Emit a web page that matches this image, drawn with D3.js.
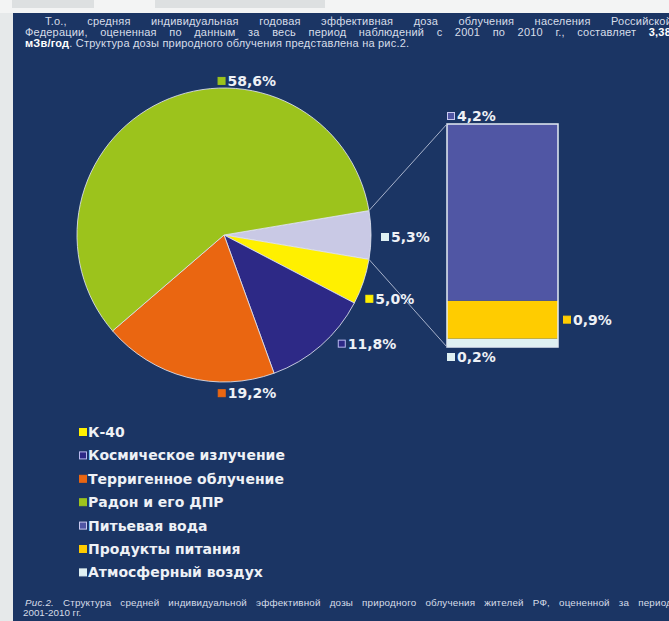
<!DOCTYPE html>
<html>
<head>
<meta charset="utf-8">
<script src="https://cdn.jsdelivr.net/npm/d3@7/dist/d3.min.js"></script>
<style>
  body { margin: 0; background: #e9ecee; overflow: hidden; }
  svg { display: block; }
</style>
</head>
<body>
<div id="visualization"></div>
<script>
// pie slices, clockwise from the "other" slice on the right
const pieKeys = ['other', 'k40', 'cosmic', 'terrigen', 'radon']
const pieValues = [5.3, 5.0, 11.8, 19.2, 58.6]
const pieLabels = ['5,3%', '5,0%', '11,8%', '19,2%', '58,6%']

// bar of the "other" slice, bottom to top
const barKeys = ['air', 'food', 'water']
const barValues = [0.2, 0.9, 4.2]
const barLabels = ['0,2%', '0,9%', '4,2%']

const legendKeys = ['k40', 'cosmic', 'terrigen', 'radon', 'water', 'food', 'air']
const legendNames = ['К-40', 'Космическое излучение', 'Терригенное облучение', 'Радон и его ДПР',
  'Питьевая вода', 'Продукты питания', 'Атмосферный воздух']

const headerLines = [
  'Т.о., средняя индивидуальная годовая эффективная доза облучения населения Российской',
  'Федерации, оцененная по данным за весь период наблюдений с 2001 по 2010 г., составляет 3,38'
]
const headerLast = ['мЗв/год', '. Структура дозы природного облучения представлена на рис.2.']
const captionLines = [
  'Рис.2. Структура средней индивидуальной эффективной дозы природного облучения жителей РФ, оцененной за период',
  '2001-2010 гг.'
]

const colors = {
  other: '#c9c9e5', k40: '#fff000', cosmic: '#2d2986', terrigen: '#ea6611', radon: '#9cc31c',
  water: '#5056a4', food: '#ffcc00', air: '#dff0f2'
}
// legend boxes with an outline
const outlined = { cosmic: '#b9b9f0', water: '#c9c9f0' }

const width = 669
const height = 621
const navy = '#1b3564'
const textColor = '#eef1f6'
const smallFont = 'Liberation Sans, Arial, sans-serif'

const svg = d3.select('#visualization')
  .append('svg')
    .attr('width', width)
    .attr('height', height)

// page around the panel
svg.append('rect').attr('width', width).attr('height', 13).attr('fill', '#f3f4f4')
svg.append('rect').attr('x', 12).attr('width', 82).attr('height', 8).attr('fill', '#dde0e1')
svg.append('rect').attr('x', 155).attr('width', 170).attr('height', 8).attr('fill', '#dde0e1')
svg.append('rect').attr('y', 13).attr('width', 13).attr('height', height).attr('fill', '#e6e9ea')
svg.append('rect').attr('x', 13).attr('y', 13).attr('width', width).attr('height', height).attr('fill', navy)

// justified line of words
let justify = (g, text, x0, x1, y, size) => {
  let words = text.split(' ')
  let nodes = words.map(w => g.append('text')
    .attr('y', y)
    .attr('font-family', smallFont)
    .attr('font-size', size)
    .attr('letter-spacing', 0.2)
    .attr('fill', '#d7dde9')
    .text(w))
  let lens = nodes.map(n => n.node().getComputedTextLength())
  let gap = (x1 - x0 - d3.sum(lens)) / (words.length - 1)
  let x = x0
  nodes.forEach((n, i) => { n.attr('x', x); x += lens[i] + gap })
  return nodes
}

let header = svg.append('g')
justify(header, headerLines[0], 45, 672, 25, 11)
let line2 = justify(header, headerLines[1], 25, 671, 36, 11)
line2[line2.length - 1].attr('font-weight', 'bold').attr('fill', '#ffffff')
let last = header.append('text')
  .attr('x', 25).attr('y', 47)
  .attr('font-family', smallFont)
  .attr('font-size', 11)
  .attr('letter-spacing', 0.2)
  .attr('fill', '#d7dde9')
last.append('tspan').attr('font-weight', 'bold').attr('fill', '#ffffff').text(headerLast[0])
last.append('tspan').text(headerLast[1])

let caption = svg.append('g')
let capWords = justify(caption, captionLines[0], 25, 672, 606, 9.8)
capWords[0].attr('font-style', 'italic')
caption.append('text')
  .attr('x', 23).attr('y', 616)
  .attr('font-family', smallFont)
  .attr('font-size', 9.8)
  .attr('fill', '#d7dde9')
  .text(captionLines[1])

// pie
let cx = 224
let cy = 235
let radius = 147
let total = d3.sum(pieValues)
let start = Math.PI / 2 - (pieValues[0] / total) * Math.PI

let pie = d3.pie().sort(null).startAngle(start).endAngle(start + 2 * Math.PI)
let arcs = pie(pieValues)
let arc = d3.arc().innerRadius(0).outerRadius(radius)

let pieG = svg.append('g').attr('transform', `translate(${cx},${cy})`)
pieG.selectAll('path')
  .data(arcs)
  .enter()
  .append('path')
    .attr('d', arc)
    .attr('fill', (d, i) => colors[pieKeys[i]])
    .attr('stroke', '#dfe3ee')
    .attr('stroke-opacity', 0.85)
    .attr('stroke-width', 1)

// bar of pie
let barX = 447
let barW = 111
let yScale = d3.scaleLinear()
  .domain([0, d3.sum(barValues)])
  .range([347, 124])
let stacked = d3.cumsum(barValues)

let barG = svg.append('g')
barG.selectAll('rect')
  .data(barValues)
  .enter()
  .append('rect')
    .attr('x', barX)
    .attr('width', barW)
    .attr('y', (d, i) => yScale(stacked[i]))
    .attr('height', (d, i) => yScale(stacked[i] - d) - yScale(stacked[i]))
    .attr('fill', (d, i) => colors[barKeys[i]])
barG.append('rect')
  .attr('x', barX).attr('y', yScale(d3.sum(barValues)))
  .attr('width', barW).attr('height', yScale(0) - yScale(d3.sum(barValues)))
  .attr('fill', 'none')
  .attr('stroke', '#e4ebf2')
  .attr('stroke-width', 1.5)

// connectors from the "other" slice to the bar
let edge = a => [cx + radius * Math.sin(a), cy - radius * Math.cos(a)]
let p0 = edge(arcs[0].startAngle)
let p1 = edge(arcs[0].endAngle)
svg.append('line')
  .attr('x1', p0[0]).attr('y1', p0[1]).attr('x2', barX).attr('y2', yScale(d3.sum(barValues)))
  .attr('stroke', '#a7b2cb').attr('stroke-width', 1)
svg.append('line')
  .attr('x1', p1[0]).attr('y1', p1[1]).attr('x2', barX).attr('y2', yScale(0))
  .attr('stroke', '#a7b2cb').attr('stroke-width', 1)

// label = small box + bold value
let labelFont = 'DejaVu Sans, Verdana, sans-serif'
let drawLabel = (x, y, key, text) => {
  let g = svg.append('g').attr('transform', `translate(${x},${y})`)
  g.append('rect')
    .attr('x', 0.5).attr('y', -3.5).attr('width', 7).attr('height', 7)
    .attr('fill', colors[key])
    .attr('stroke', outlined[key] || colors[key])
    .attr('stroke-width', 1)
  g.append('text')
    .attr('x', 10).attr('y', 5)
    .attr('font-family', labelFont)
    .attr('font-weight', 'bold')
    .attr('font-size', 14)
    .attr('fill', textColor)
    .text(text)
}

// nudges from the slice edge (Excel "best fit" positions)
let labelNudge = [[10, 2], [2, 17], [17, -2], [31, 16], [56, -21]]
arcs.forEach((a, i) => {
  let mid = (a.startAngle + a.endAngle) / 2
  let p = edge(mid)
  drawLabel(p[0] + labelNudge[i][0], p[1] + labelNudge[i][1], pieKeys[i] === 'other' ? 'air' : pieKeys[i], pieLabels[i])
})

drawLabel(barX, yScale(d3.sum(barValues)) - 8, 'water', barLabels[2])
drawLabel(barX + barW + 5, yScale((stacked[0] + stacked[1]) / 2), 'food', barLabels[1])
drawLabel(barX, yScale(0) + 10, 'air', barLabels[0])

// legend
let legend = svg.append('g').attr('transform', 'translate(79,432)')
let item = legend.selectAll('g')
  .data(legendKeys)
  .enter()
  .append('g')
    .attr('transform', (d, i) => `translate(0,${i * 23.4})`)
item.append('rect')
  .attr('x', 0.5).attr('y', -3.5).attr('width', 7).attr('height', 7)
  .attr('fill', d => colors[d])
  .attr('stroke', d => outlined[d] || colors[d])
item.append('text')
  .attr('x', 9).attr('y', 5)
  .attr('font-family', labelFont)
  .attr('font-weight', 'bold')
  .attr('font-size', 14)
  .attr('fill', textColor)
  .text((d, i) => legendNames[i])
</script>
</body>
</html>
